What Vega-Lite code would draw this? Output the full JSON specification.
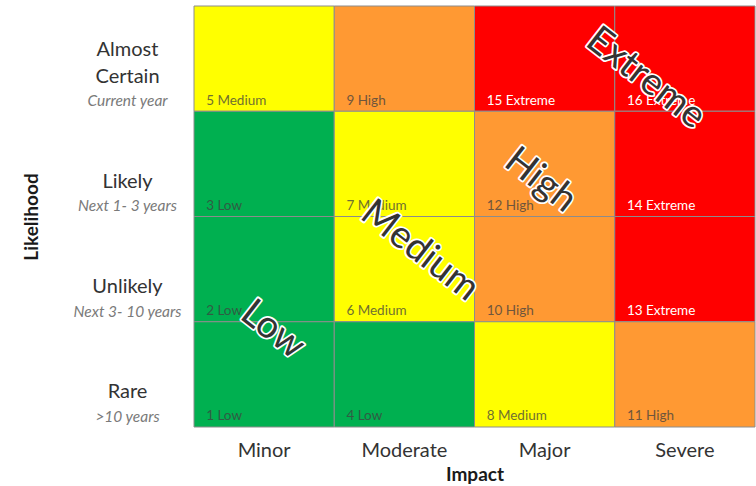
{
  "$schema": "https://vega.github.io/schema/vega-lite/v6.json",
  "width": 561,
  "height": 421,
  "autosize": {"type": "none"},
  "padding": {"left": 194, "top": 6, "right": 1, "bottom": 59},
  "background": "white",
  "config": {
    "view": {"stroke": null},
    "font": "Lato",
    "axis": {"domain": false, "ticks": false, "tickSize": 0, "grid": false}
  },
  "datasets": {
    "cells": [
      {"impact": "Minor", "likelihood": "Almost Certain", "score": 5, "level": "Medium"},
      {"impact": "Minor", "likelihood": "Likely", "score": 3, "level": "Low"},
      {"impact": "Minor", "likelihood": "Unlikely", "score": 2, "level": "Low"},
      {"impact": "Minor", "likelihood": "Rare", "score": 1, "level": "Low"},
      {"impact": "Moderate", "likelihood": "Almost Certain", "score": 9, "level": "High"},
      {"impact": "Moderate", "likelihood": "Likely", "score": 7, "level": "Medium"},
      {"impact": "Moderate", "likelihood": "Unlikely", "score": 6, "level": "Medium"},
      {"impact": "Moderate", "likelihood": "Rare", "score": 4, "level": "Low"},
      {"impact": "Major", "likelihood": "Almost Certain", "score": 15, "level": "Extreme"},
      {"impact": "Major", "likelihood": "Likely", "score": 12, "level": "High"},
      {"impact": "Major", "likelihood": "Unlikely", "score": 10, "level": "High"},
      {"impact": "Major", "likelihood": "Rare", "score": 8, "level": "Medium"},
      {"impact": "Severe", "likelihood": "Almost Certain", "score": 16, "level": "Extreme"},
      {"impact": "Severe", "likelihood": "Likely", "score": 14, "level": "Extreme"},
      {"impact": "Severe", "likelihood": "Unlikely", "score": 13, "level": "Extreme"},
      {"impact": "Severe", "likelihood": "Rare", "score": 11, "level": "High"}
    ],
    "zones": [
      {"zone": "Low", "impactPos": 0.56, "likelihoodPos": 0.92},
      {"zone": "Medium", "impactPos": 1.61, "likelihoodPos": 1.67},
      {"zone": "High", "impactPos": 2.47, "likelihoodPos": 2.34},
      {"zone": "Extreme", "impactPos": 3.22, "likelihoodPos": 3.31}
    ]
  },
  "layer": [
    {
      "data": {"name": "cells"},
      "mark": {"type": "rect", "stroke": "#8c8c8c", "strokeWidth": 1},
      "encoding": {
        "x": {
          "field": "impact", "type": "nominal",
          "sort": ["Minor", "Moderate", "Major", "Severe"],
          "scale": {"paddingInner": 0, "paddingOuter": 0},
          "axis": {
            "orient": "bottom", "title": "Impact", "labelAngle": 0,
            "labelFontSize": 20, "labelColor": "#333333", "labelPadding": 13,
            "titleFontSize": 19, "titleFontWeight": "bold", "titleColor": "#1a1a1a",
            "titlePadding": 5
          }
        },
        "y": {
          "field": "likelihood", "type": "nominal",
          "sort": ["Almost Certain", "Likely", "Unlikely", "Rare"],
          "scale": {"paddingInner": 0, "paddingOuter": 0},
          "axis": {
            "orient": "left", "title": "Likelihood",
            "labelExpr": "datum.value == 'Almost Certain' ? ['Almost', 'Certain'] : datum.value",
            "labelFontSize": 20, "labelColor": "#333333", "labelAlign": "center",
            "labelBaseline": "bottom",
            "labelOffset": {"condition": {"test": "datum.value == 'Almost Certain'", "value": 1}, "value": 28},
            "labelPadding": 67,
            "labelLineHeight": 27,
            "titleFontSize": 19, "titleFontWeight": "bold", "titleColor": "#1a1a1a",
            "titlePadding": 50
          }
        },
        "color": {
          "field": "level", "type": "nominal",
          "scale": {
            "domain": ["Low", "Medium", "High", "Extreme"],
            "range": ["#00b050", "#ffff00", "#ff9933", "#ff0000"]
          },
          "legend": null
        }
      }
    },
    {
      "data": {"name": "cells"},
      "transform": [{"calculate": "datum.score + ' ' + datum.level", "as": "label"}],
      "mark": {"type": "text", "align": "left", "baseline": "alphabetic", "dx": -58, "dy": 46, "fontSize": 13.5},
      "encoding": {
        "x": {
          "field": "impact", "type": "nominal",
          "sort": ["Minor", "Moderate", "Major", "Severe"],
          "scale": {"paddingInner": 0, "paddingOuter": 0},
          "axis": null
        },
        "y": {
          "field": "likelihood", "type": "nominal",
          "sort": ["Almost Certain", "Likely", "Unlikely", "Rare"],
          "scale": {"paddingInner": 0, "paddingOuter": 0},
          "axis": {
            "orient": "left", "title": null,
            "labelExpr": "{'Almost Certain': 'Current year', 'Likely': 'Next 1- 3 years', 'Unlikely': 'Next 3- 10 years', 'Rare': '>10 years'}[datum.value]",
            "labelFontSize": 15.5, "labelFontStyle": "italic", "labelColor": "#7a7a7a",
            "labelAlign": "center", "labelBaseline": "middle", "labelOffset": 42,
            "labelPadding": 67
          }
        },
        "text": {"field": "label", "type": "nominal"},
        "color": {
          "condition": {"test": "datum.level == 'Extreme'", "value": "#ffffff"},
          "value": "#404040"
        },
        "opacity": {
          "condition": {"test": "datum.level == 'Extreme'", "value": 1},
          "value": 0.75
        }
      }
    },
    {
      "data": {"name": "zones"},
      "mark": {"type": "text", "angle": 38, "fontSize": 38, "align": "center", "baseline": "middle",
               "stroke": "#ffffff", "strokeWidth": 3.5, "strokeJoin": "round", "fill": "#ffffff"},
      "encoding": {
        "x": {"field": "impactPos", "type": "quantitative", "scale": {"domain": [0, 4], "nice": false, "zero": false}, "axis": null},
        "y": {"field": "likelihoodPos", "type": "quantitative", "scale": {"domain": [0, 4], "nice": false, "zero": false}, "axis": null},
        "text": {"field": "zone"}
      }
    },
    {
      "data": {"name": "zones"},
      "mark": {"type": "text", "angle": 38, "fontSize": 38, "align": "center", "baseline": "middle", "fill": "#333333"},
      "encoding": {
        "x": {"field": "impactPos", "type": "quantitative", "scale": {"domain": [0, 4], "nice": false, "zero": false}, "axis": null},
        "y": {"field": "likelihoodPos", "type": "quantitative", "scale": {"domain": [0, 4], "nice": false, "zero": false}, "axis": null},
        "text": {"field": "zone"}
      }
    }
  ],
  "resolve": {"scale": {"x": "independent", "y": "independent"}, "axis": {"x": "independent", "y": "independent"}}
}
